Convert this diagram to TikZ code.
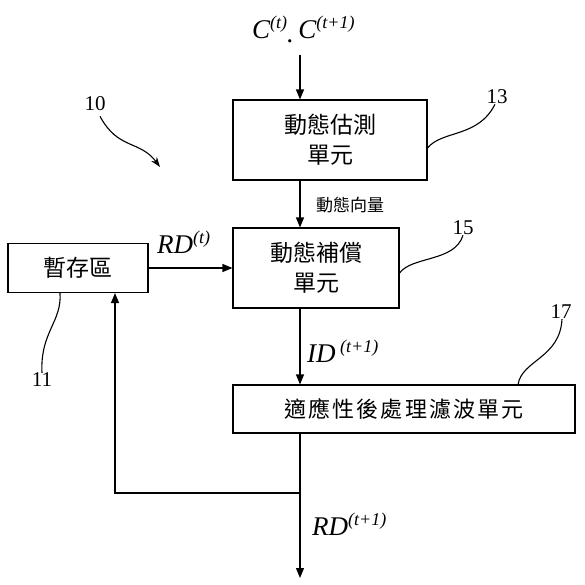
\documentclass[tikz,border=0pt]{standalone}
\usepackage{fontspec}
\setmainfont{Liberation Serif}
\newfontfamily\cjk{Noto Sans CJK TC}
\usetikzlibrary{arrows.meta}

\newcommand{\upidx}[1]{\raisebox{10pt}{\fontsize{18}{18}\selectfont\itshape #1}}

\begin{document}
\begin{tikzpicture}[x=1pt,y=-1pt,
    unit/.style={draw, line width=1.1pt, inner sep=0pt, align=center,
      font=\cjk\fontsize{23}{30}\selectfont},
    arr/.style={line width=1.1pt, -{Triangle[length=10pt,width=8pt]}},
    lead/.style={line width=1.1pt},
    refnum/.style={inner sep=0pt, font=\fontsize{21}{21}\selectfont},
    sig/.style={inner sep=0pt, anchor=base west, font=\fontsize{27}{27}\selectfont\itshape}]

  \useasboundingbox (0,0) rectangle (585,584);

  % Units
  \node[unit, minimum width=194pt, minimum height=80pt] (est) at (330,140) {動態估測\\單元};
  \node[unit, minimum width=166pt, minimum height=80pt] (comp) at (316,268) {動態補償\\單元};
  \node[unit, minimum width=140pt, minimum height=49pt] (buf) at (78,268) {暫存區};
  \node[unit, minimum width=342pt, minimum height=48pt,
        font=\cjk\fontsize{22}{26}\selectfont\addfontfeature{LetterSpace=10}] (post) at (404,409) {適應性後處理濾波單元};

  % Reference numbers
  \node[refnum] (n10) at (95,104) {10};
  \node[refnum] (n11) at (42,380) {11};
  \node[refnum] (n13) at (497,97) {13};
  \node[refnum] (n15) at (463,228) {15};
  \node[refnum] (n17) at (561,312) {17};

  % Signals
  \node[sig] (lc) at (252,38) {C\upidx{(t)}\raisebox{-4pt}{.}\,C\upidx{(t+1)}};
  \node[inner sep=0pt, anchor=west, font=\cjk\fontsize{17}{17}\selectfont] (lmv) at (316,205) {動態向量};
  \node[sig] (lrd) at (157,253) {RD\upidx{(t)}};
  \node[sig] (lid) at (307,362) {ID\,\upidx{(t+1)}};
  \node[sig] (lrdn) at (312,535) {RD\upidx{(t+1)}};

  % Data flow
  \coordinate (src) at (300,55);
  \coordinate (split) at (300,493);
  \coordinate (out) at (300,578);
  \coordinate (fb) at (115,493);
  \draw[arr] (src) -- (src |- est.north);
  \draw[arr] (src |- est.south) -- (src |- comp.north);
  \draw[arr] (buf.east) -- (buf.east -| comp.west);
  \draw[arr] (src |- comp.south) -- (src |- post.north);
  \draw[arr] (src |- post.south) -- (out);
  \draw[arr] (split) -- (fb) -- (fb |- buf.south);

  % Leaders
  \coordinate (tip10) at (160,167);
  \draw[lead, -{Stealth[length=10pt,width=7pt]}] ([shift={(5pt,-5pt)}]n10.south) .. controls (118,150) and (140,140) .. (tip10);
  \draw[lead] ([xshift=-18pt]buf.south) .. controls (62,322) and (40,332) .. (n11.north);
  \draw[lead] ([yshift=-8pt]est.east) .. controls (442,130) and (478,138) .. ([xshift=-2pt]n13.south);
  \draw[lead] ([yshift=-5pt]comp.east) .. controls (412,256) and (455,262) .. (n15.south);
  \draw[lead] ([xshift=114pt]post.north) .. controls (522,360) and (560,358) .. ([xshift=1pt]n17.south);
\end{tikzpicture}
\end{document}
